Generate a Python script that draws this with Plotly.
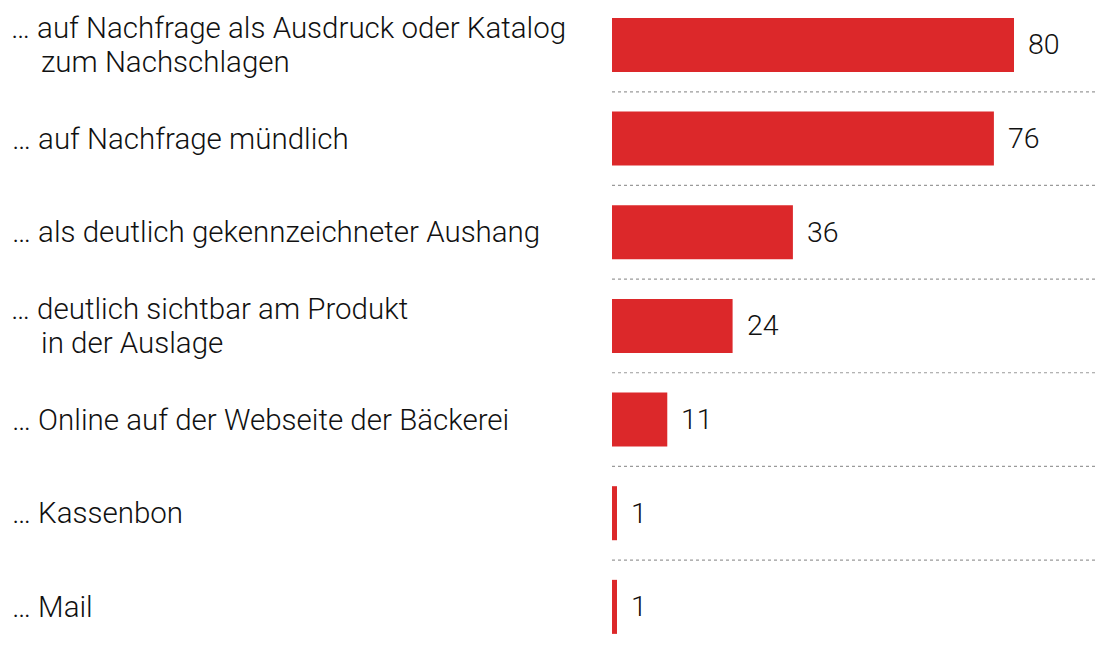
import plotly.graph_objects as go

# Survey answers (share in %), top to bottom
first_lines = [
    "… auf Nachfrage als Ausdruck oder Katalog",
    "… auf Nachfrage mündlich",
    "… als deutlich gekennzeichneter Aushang",
    "… deutlich sichtbar am Produkt",
    "… Online auf der Webseite der Bäckerei",
    "… Kassenbon",
    "… Mail",
]
second_lines = ["zum Nachschlagen", "", "", "in der Auslage", "", "", ""]
values = [80, 76, 36, 24, 11, 1, 1]

BAR_COLOR = "#dc282a"
FONT = "Roboto"
FONT_SIZE = 29.5
LINE_GAP = 34.6  # distance between the two lines of a wrapped label

rows = list(range(len(values)))

fig = go.Figure(
    go.Bar(
        x=values,
        y=rows,
        orientation="h",
        marker=dict(color=BAR_COLOR, line=dict(width=0)),
        width=0.577,
        hoverinfo="skip",
    )
)

annotations = []
L_MARGIN = 612
PLOT_W = 1097 - L_MARGIN


def px_to_paper(px):
    return (px - L_MARGIN) / PLOT_W


label_font = dict(family=FONT, size=FONT_SIZE, color="#111111", weight=300)
value_font = dict(family=FONT, size=28.5, color="#111111", weight=300)

for i, (l1, l2, v) in enumerate(zip(first_lines, second_lines, values)):
    if l2:
        annotations.append(dict(x=px_to_paper(10), y=i, xref="paper", yref="y",
                                text=l1, xanchor="left", yanchor="middle",
                                yshift=LINE_GAP / 2, showarrow=False,
                                borderpad=0, font=label_font))
        annotations.append(dict(x=px_to_paper(40), y=i, xref="paper", yref="y",
                                text=l2, xanchor="left", yanchor="middle",
                                yshift=-LINE_GAP / 2, showarrow=False,
                                borderpad=0, font=label_font))
    else:
        annotations.append(dict(x=px_to_paper(10), y=i, xref="paper", yref="y",
                                text=l1, xanchor="left", yanchor="middle",
                                showarrow=False, font=label_font))
    # value label to the right of each bar
    annotations.append(dict(x=v, y=i, xref="x", yref="y", text=str(v),
                            xanchor="left", yanchor="middle", xshift=12,
                            showarrow=False, font=value_font))

# dotted separators between rows
shapes = [
    dict(type="line", xref="x domain", yref="y", x0=0, x1=1,
         y0=i + 0.5, y1=i + 0.5,
         line=dict(color="#9a9a9a", width=1.2, dash="dot"))
    for i in rows[:-1]
]

fig.update_layout(
    width=1097,
    height=649,
    margin=dict(l=L_MARGIN, r=0, t=0, b=0),
    paper_bgcolor="white",
    plot_bgcolor="white",
    showlegend=False,
    font=dict(family=FONT, size=FONT_SIZE, color="#111111"),
    xaxis=dict(range=[0, PLOT_W / 5.025], visible=False, fixedrange=True),
    yaxis=dict(range=[6.45, -0.48], visible=False, fixedrange=True),
    annotations=annotations,
    shapes=shapes,
)

fig.write_html("out.html")
